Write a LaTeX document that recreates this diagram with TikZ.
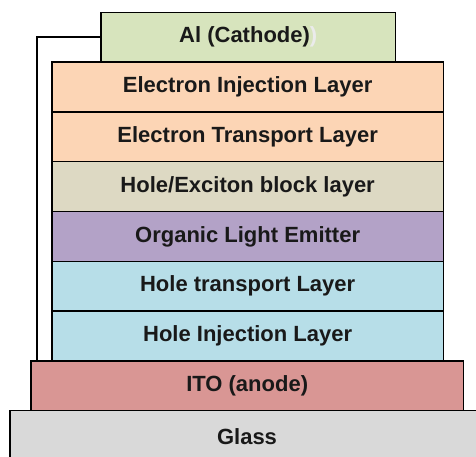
\documentclass[tikz,border=0pt]{standalone}
\usepackage{fontspec}
\setmainfont{Liberation Sans}
\definecolor{alc}{HTML}{D7E4BD}
\definecolor{peach}{HTML}{FCD5B5}
\definecolor{beige}{HTML}{DDD9C3}
\definecolor{purp}{HTML}{B3A2C7}
\definecolor{lblue}{HTML}{B7DEE8}
\definecolor{itoc}{HTML}{D99694}
\definecolor{glassc}{HTML}{D9D9D9}
\begin{document}
\begin{tikzpicture}[x=1pt,y=-1pt,
  layer/.style={draw=black,line width=1.5pt,inner sep=0pt,outer sep=0pt,
    font=\fontsize{22}{26}\selectfont\bfseries,text=black!90},
  stack/.style={layer,minimum width=391.3pt,minimum height=49.8pt},
  wire/.style={draw=black,line width=1.5pt}]
\useasboundingbox (0,0) rectangle (476,457);
\node[layer,fill=glassc,minimum width=480pt,minimum height=55pt,anchor=north west] (glass) at (10,410.5) {};
\node[layer,draw=none] (glasst) at (247,437) {Glass};
\node[layer,fill=itoc,minimum width=432.3pt,minimum height=49.5pt] (ito) at (247.2,385.75) {ITO (anode)};
\node[stack,fill=lblue] (hil) at (247.65,336) {Hole Injection Layer};
\node[stack,fill=lblue] (htl) at (247.65,286.2) {Hole transport Layer};
\node[stack,fill=purp] (ole) at (247.65,236.4) {Organic Light Emitter};
\node[stack,fill=beige] (hebl) at (247.65,186.6) {Hole/Exciton block layer};
\node[stack,fill=peach] (etl) at (247.65,136.8) {Electron Transport Layer};
\node[stack,fill=peach] (eil) at (247.65,87) {Electron Injection Layer};
\node[layer,fill=alc,minimum width=294.5pt,minimum height=49.4pt] (al) at (248.25,37) {Al (Cathode)\textcolor{white!92!black}{)}};
\coordinate (wend) at (37,361);
\draw[wire] (al.west) -| (wend);
\end{tikzpicture}
\end{document}
